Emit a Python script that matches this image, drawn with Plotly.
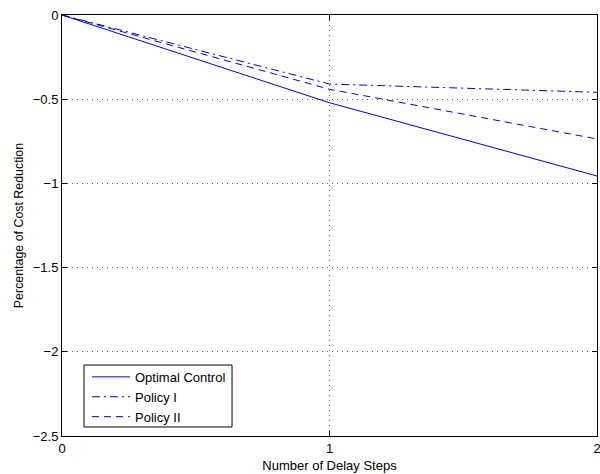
import plotly.graph_objects as go

# Delay steps and the relative cost reduction of each control strategy
delay_steps = [0, 1, 2]
optimal_control = [0.0, -0.521, -0.956]
policy_one = [0.0, -0.41, -0.459]
policy_two = [0.0, -0.441, -0.736]

series_names = ["Optimal Control", "Policy I", "Policy II"]
x_ticks = [0, 1, 2]
y_ticks = [0, -0.5, -1, -1.5, -2, -2.5]
y_tick_text = ["0", "−0.5", "−1", "−1.5", "−2", "−2.5"]

blue = "rgb(0,0,255)"
font_family = "Liberation Sans, Arial, sans-serif"
font_size = 13

fig = go.Figure()
fig.add_trace(go.Scatter(x=delay_steps, y=optimal_control, mode="lines",
                         name=series_names[0],
                         line=dict(color=blue, width=1, dash="solid")))
fig.add_trace(go.Scatter(x=delay_steps, y=policy_one, mode="lines",
                         name=series_names[1],
                         line=dict(color=blue, width=1, dash="8px,4px,2px,4px")))
fig.add_trace(go.Scatter(x=delay_steps, y=policy_two, mode="lines",
                         name=series_names[2],
                         line=dict(color=blue, width=1, dash="7px,5px")))

axis_common = dict(
    showline=True, linecolor="black", linewidth=1, mirror="ticks",
    ticks="inside", ticklen=5, tickcolor="black", tickwidth=1,
    showgrid=True, gridcolor="#666666", gridwidth=1, griddash="1px,4px",
    zeroline=False, ticklabeloverflow="allow", automargin=False,
    tickfont=dict(family=font_family, size=font_size, color="black"),
)

# Legend frame drawn as a paper-anchored rectangle (plot area spans 62-597 px
# horizontally and 15-436 px vertically)
fig.add_shape(type="rect", xref="paper", yref="paper",
              x0=0.0411, x1=0.3178, y0=0.0214, y1=0.1686,
              line=dict(color="black", width=1), fillcolor="white", layer="above")

fig.update_layout(
    width=600, height=474,
    margin=dict(l=62, r=3, t=15, b=38),
    paper_bgcolor="white", plot_bgcolor="white",
    font=dict(family=font_family, size=font_size, color="black"),
    showlegend=True,
    legend=dict(
        x=0.0467, y=0.176, xanchor="left", yanchor="top",
        bgcolor="rgba(0,0,0,0)", borderwidth=0,
        font=dict(family=font_family, size=font_size, color="black"),
        tracegroupgap=0, itemwidth=38,
    ),
    xaxis=dict(range=[0, 2], tickvals=x_ticks, ticktext=[str(t) for t in x_ticks],
               title=dict(text="Number of Delay Steps", standoff=6,
                          font=dict(family=font_family, size=font_size, color="black")),
               **axis_common),
    yaxis=dict(range=[-2.5, 0], tickvals=y_ticks, ticktext=y_tick_text,
               title=dict(text="Percentage of Cost Reduction", standoff=6,
                          font=dict(family=font_family, size=12.4, color="black")),
               **axis_common),
)

fig.write_html("out.html")
